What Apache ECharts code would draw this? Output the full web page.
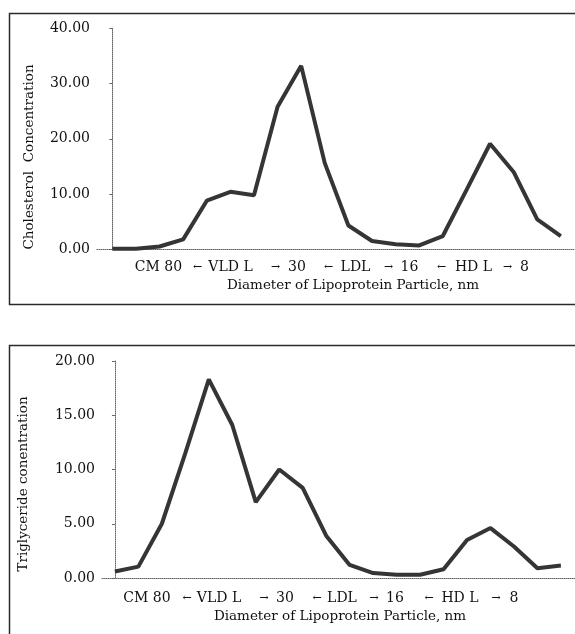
<!DOCTYPE html>
<html>
<head>
<meta charset="utf-8">
<script src="https://cdn.jsdelivr.net/npm/echarts@6/dist/echarts.min.js"></script>
<style>
html,body{margin:0;padding:0;background:#fff;}
#chart{width:575px;height:634px;}
</style>
</head>
<body>
<div id="chart"></div>
<script>
// ---- data ----
const pointIndex = [0,1,2,3,4,5,6,7,8,9,10,11,12,13,14,15,16,17,18,19];
const cholesterol = [0.1,0.1,0.5,1.8,8.8,10.4,9.8,25.8,33.2,15.6,4.3,1.5,0.9,0.7,2.4,10.7,19.1,14.0,5.4,2.4];
const triglyceride = [0.6,1.05,5.0,11.5,18.3,14.1,7.0,10.0,8.3,3.9,1.2,0.45,0.3,0.3,0.8,3.5,4.6,2.9,0.9,1.15];
const cholTicks = [0, 10, 20, 30, 40];
const trigTicks = [0, 5, 10, 15, 20];
const sizeLabels = ["CM 80", "←", "VLD L", "→", "30", "←", "LDL", "→", "16", "←", "HD L", "→", "8"];
const xTitle = "Diameter of Lipoprotein Particle, nm";
const cholTitle = "Cholesterol  Concentration";
const trigTitle = "Triglyceride conentration";

// ---- layout (positions only) ----
const topLabelX = [158.5,197.5,230.5,275.5,297,328.5,355.5,388.5,409.5,441.5,473.5,507.5,524.5];
const botLabelX = [147,187,219,264,285,317,342,374,395,429,460,496,514];
const FONT = '"DejaVu Serif", serif';
const TXT = '#111';

function pairs(vals){ return vals.map((v,i)=>[pointIndex[i], v]); }

const graphics = [];
graphics.push({type:'rect', shape:{x:9.5,y:13.5,width:620,height:291}, style:{fill:'none',stroke:'#2a2a2a',lineWidth:1.5}, silent:true});
graphics.push({type:'rect', shape:{x:9.5,y:345.5,width:620,height:400}, style:{fill:'none',stroke:'#2a2a2a',lineWidth:1.5}, silent:true});
sizeLabels.forEach((t,i)=>{
  const isArrow = (t === '←' || t === '→');
  const f = (isArrow ? '11px ' : '14px ') + FONT;
  graphics.push({type:'text', x:topLabelX[i], y:267, style:{text:t, font:f, fill:TXT, textAlign:'center', textVerticalAlign:'middle'}});
  graphics.push({type:'text', x:botLabelX[i], y:598, style:{text:t, font:f, fill:TXT, textAlign:'center', textVerticalAlign:'middle'}});
});
graphics.push({type:'text', x:353, y:285, style:{text:xTitle, font:'13.5px '+FONT, fill:TXT, textAlign:'center', textVerticalAlign:'middle'}});
graphics.push({type:'text', x:340, y:616, style:{text:xTitle, font:'13.5px '+FONT, fill:TXT, textAlign:'center', textVerticalAlign:'middle'}});
graphics.push({type:'text', x:29, y:157, rotation:Math.PI/2, style:{text:cholTitle, font:'13.5px '+FONT, fill:TXT, textAlign:'center', textVerticalAlign:'middle'}});
graphics.push({type:'text', x:23, y:484, rotation:Math.PI/2, style:{text:trigTitle, font:'13.5px '+FONT, fill:TXT, textAlign:'center', textVerticalAlign:'middle'}});

function yAxisCfg(gi, ticks){
  return {
    type:'value', gridIndex:gi, min:ticks[0], max:ticks[ticks.length-1],
    interval: ticks[1]-ticks[0],
    axisLine:{show:true, lineStyle:{color:'#666', type:[1,1], width:1}},
    axisTick:{show:true, length:3, lineStyle:{color:'#666'}},
    splitLine:{show:false},
    axisLabel:{formatter:v=>v.toFixed(2), color:TXT, fontFamily:FONT, fontSize:14, margin:7}
  };
}
function xAxisCfg(gi, mn, mx){
  return {
    type:'value', gridIndex:gi, min:mn, max:mx,
    axisLine:{show:true, onZero:false, lineStyle:{color:'#666', type:[1,1], width:1}},
    axisTick:{show:false}, axisLabel:{show:false}, splitLine:{show:false}
  };
}
const lineStyle = {color:'#353535', width:4};

const chart = echarts.init(document.getElementById('chart'), null, {renderer:'canvas'});
chart.setOption({
  animation:false,
  backgroundColor:'#fff',
  grid:[
    {left:97, top:28.3, width:478, height:221},
    {left:102, top:361, width:473, height:217}
  ],
  xAxis:[xAxisCfg(0,-0.65,19.6), xAxisCfg(1,-0.55,19.6)],
  yAxis:[yAxisCfg(0,cholTicks), yAxisCfg(1,trigTicks)],
  series:[
    {type:'line', xAxisIndex:0, yAxisIndex:0, data:pairs(cholesterol), symbol:'none', lineStyle:lineStyle, itemStyle:{color:'#353535'}},
    {type:'line', xAxisIndex:1, yAxisIndex:1, data:pairs(triglyceride), symbol:'none', lineStyle:lineStyle, itemStyle:{color:'#353535'}}
  ],
  graphic:graphics
});
</script>
</body>
</html>
